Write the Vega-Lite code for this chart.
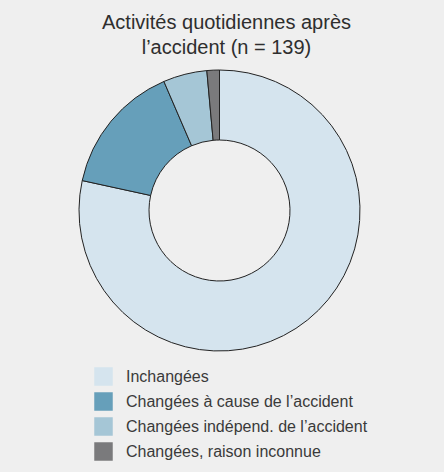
{
  "$schema": "https://vega.github.io/schema/vega-lite/v6.json",
  "autosize": {"type": "none"},
  "width": 281,
  "height": 281,
  "padding": {"left": 79, "top": 70, "right": 84, "bottom": 121},
  "background": "#efefef",
  "view": {"stroke": null},
  "title": {
    "text": ["Activités quotidiennes après", "l’accident (n = 139)"],
    "font": "Liberation Sans",
    "fontSize": 20,
    "fontWeight": "normal",
    "lineHeight": 25,
    "color": "#2e2e2e",
    "anchor": "middle",
    "dx": 7,
    "offset": 10
  },
  "data": {
    "values": [
      {"categorie": "Inchangées", "nombre": 109, "rang": 1},
      {"categorie": "Changées à cause de l’accident", "nombre": 21, "rang": 2},
      {"categorie": "Changées indépend. de l’accident", "nombre": 7, "rang": 3},
      {"categorie": "Changées, raison inconnue", "nombre": 2, "rang": 4}
    ]
  },
  "mark": {"type": "arc", "innerRadius": 70.5, "stroke": "#222222", "strokeWidth": 1},
  "encoding": {
    "theta": {"field": "nombre", "type": "quantitative", "stack": true},
    "order": {"field": "rang", "type": "quantitative", "sort": "ascending"},
    "color": {
      "field": "categorie",
      "type": "nominal",
      "scale": {
        "domain": ["Inchangées", "Changées à cause de l’accident", "Changées indépend. de l’accident", "Changées, raison inconnue"],
        "range": ["#d5e4ee", "#669fba", "#a5c6d6", "#7a7a7c"]
      },
      "legend": {
        "title": null,
        "orient": "none",
        "legendX": 15,
        "legendY": 297,
        "direction": "vertical",
        "symbolType": "square",
        "symbolSize": 342,
        "symbolStrokeWidth": 0,
        "symbolOpacity": 1,
        "labelFont": "Liberation Sans",
        "labelFontSize": 16,
        "labelColor": "#3a3a3a",
        "labelOffset": 13,
        "rowPadding": 6,
        "padding": 0,
        "labelLimit": 400
      }
    }
  }
}
